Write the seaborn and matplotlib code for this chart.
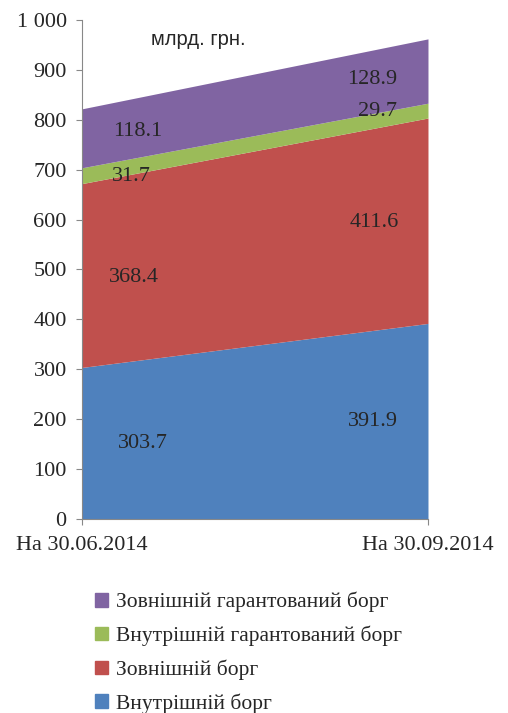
import seaborn as sns
import matplotlib.pyplot as plt
from matplotlib.patches import Patch
import numpy as np

# Дані (млрд. грн.)
dates = ["На 30.06.2014", "На 30.09.2014"]
series_names = ["Внутрішній борг", "Зовнішній борг",
                "Внутрішній гарантований борг", "Зовнішній гарантований борг"]
vnutr = [303.7, 391.9]
zovn = [368.4, 411.6]
vnutr_gar = [31.7, 29.7]
zovn_gar = [118.1, 128.9]
colors = ["#4F81BD", "#C0504D", "#9BBB59", "#8064A2"]

# положення підписів: (частка осі x, значення y) для кожної серії
label_x = [[0.175, 0.840], [0.149, 0.844], [0.143, 0.855], [0.160, 0.838]]
label_y = [[152, 196], [484, 594], [687, 816], [776, 881]]

sns.set_style("white")
plt.rcParams['font.family'] = ['Liberation Serif', 'DejaVu Serif']

fig = plt.figure(figsize=(5.08, 7.13), dpi=100)
ax = fig.add_axes([0.1614, 0.2721, 0.6811, 0.6999])

values = [vnutr, zovn, vnutr_gar, zovn_gar]
x = np.arange(len(dates))
ax.stackplot(x, values, colors=colors, linewidth=0)

for vals, xs, ys in zip(values, label_x, label_y):
    for i in range(len(dates)):
        ax.text(xs[i], ys[i], f"{vals[i]:.1f}", ha="center", va="center", fontsize=16)

ax.set_xlim(0, 1)
ax.set_ylim(0, 1000)
ax.set_yticks(range(0, 1001, 100))
ax.set_yticklabels(["0"] + [str(v) for v in range(100, 1000, 100)] + ["1 000"], fontsize=16)
ax.set_xticks(x)
ax.set_xticklabels(dates, fontsize=16)
ax.tick_params(axis="both", length=4, width=0.8, color="#888888", direction="out",
               left=True, bottom=True)
ax.tick_params(axis="y", pad=7)
ax.tick_params(axis="x", pad=8)
sns.despine(ax=ax, top=True, right=True)
for s in ["left", "bottom"]:
    ax.spines[s].set_color("#888888")
    ax.spines[s].set_linewidth(0.8)

ax.text(0.2, 960, "млрд. грн.", fontsize=14.5, family="Liberation Sans", ha="left", va="center")

handles = [Patch(color=c) for c in colors][::-1]
fig.legend(handles, series_names[::-1], loc="upper left", bbox_to_anchor=(0.17, 0.182),
           frameon=False, fontsize=15.5, handlelength=0.6, handleheight=0.6,
           handletextpad=0.4, labelspacing=0.62, borderaxespad=0)

fig.savefig("out.png", dpi=100)
